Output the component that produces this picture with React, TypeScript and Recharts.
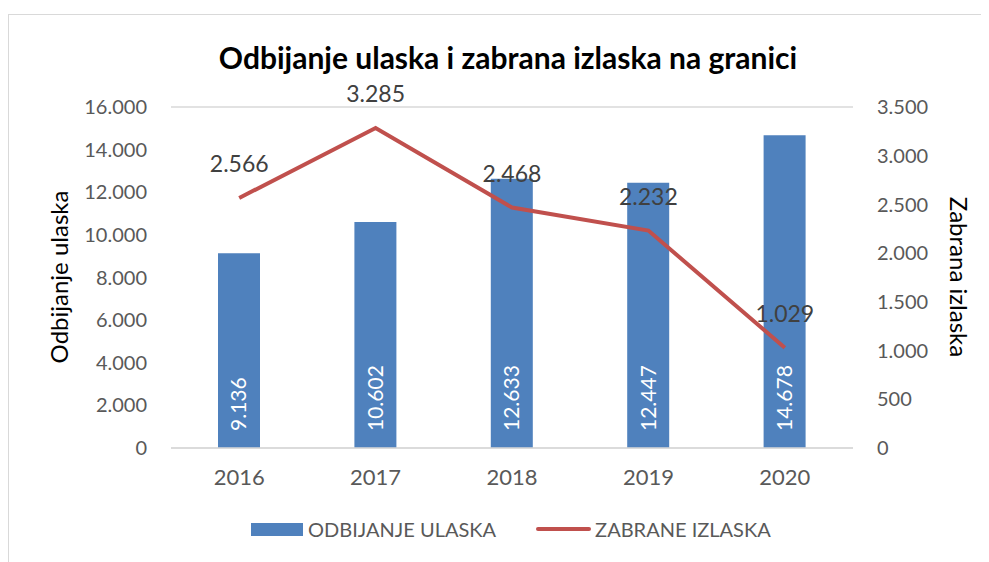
import React from 'react';
import { ComposedChart, Bar, Line, XAxis, YAxis, CartesianGrid, LabelList, Label } from 'recharts';

const years = ['2016', '2017', '2018', '2019', '2020'];
const odbijanjeUlaska = [9136, 10602, 12633, 12447, 14678];
const zabraneIzlaska = [2566, 3285, 2468, 2232, 1029];
const leftTicks = [0, 2000, 4000, 6000, 8000, 10000, 12000, 14000, 16000];
const rightTicks = [0, 500, 1000, 1500, 2000, 2500, 3000, 3500];

const data = years.map((y, i) => ({ year: y, odbijanje: odbijanjeUlaska[i], zabrane: zabraneIzlaska[i] }));

const fmt = (v: number) => String(v).replace(/\B(?=(\d{3})+(?!\d))/g, '.');

const FONT = 'Lato, "Open Sans", sans-serif';
const BLUE = '#4F81BD';
const RED = '#C0504D';
const TXT = '#595959';

const BarValue = (props: any) => {
  const { x, y, width, height, value } = props;
  const cx = x + width / 2;
  const cy = y + height - 17;
  return (
    <text x={cx} y={cy} dy="0.35em" transform={`rotate(-90, ${cx}, ${cy})`} fill="#ffffff" fontSize={21} fontFamily={FONT} textAnchor="start">
      {fmt(value)}
    </text>
  );
};

export default function App() {
  return (
    <div style={{ position: 'relative', width: 981, height: 554, fontFamily: FONT }}>
      <div style={{ position: 'absolute', left: 0, top: 6, width: 981, height: 548, borderTop: '1px solid #d9d9d9', borderLeft: '1px solid #d9d9d9', boxSizing: 'border-box' }} />
      <div style={{ position: 'absolute', left: 0, top: 31, width: 1000, textAlign: 'center', fontWeight: 700, fontSize: 30, color: '#000' }}>
        Odbijanje ulaska i zabrana izlaska na granici
      </div>
      <ComposedChart width={981} height={554} data={data} margin={{ top: 99, right: 0, bottom: 0, left: 0 }} style={{ position: 'absolute', left: 0, top: 0 }}>
        <CartesianGrid vertical={false} stroke="#d9d9d9" strokeWidth={1.3} />
        <XAxis dataKey="year" height={114} tickLine={false} axisLine={{ stroke: '#d9d9d9', strokeWidth: 1.3 }} tickSize={0} tickMargin={21} tick={{ fill: TXT, fontSize: 22, fontFamily: FONT }} />
        <YAxis yAxisId="left" orientation="left" width={163} domain={[0, 16000]} ticks={leftTicks} tickFormatter={fmt} tickLine={false} axisLine={false} tickSize={0} tickMargin={24} tick={{ fill: TXT, fontSize: 20, fontFamily: FONT }} interval={0}>
          <Label content={() => (
            <text x={52} y={269} transform="rotate(-90, 52, 269)" textAnchor="middle" dy="0.35em" fontSize={24} fontFamily={FONT} fill="#000">Odbijanje ulaska</text>
          )} />
        </YAxis>
        <YAxis yAxisId="right" orientation="right" width={136} domain={[0, 3500]} ticks={rightTicks} tickFormatter={fmt} tickLine={false} axisLine={false} tickSize={0} tickMargin={24} tick={{ fill: TXT, fontSize: 20, fontFamily: FONT }} interval={0}>
          <Label content={() => (
            <text x={950} y={269} transform="rotate(90, 950, 269)" textAnchor="middle" dy="0.35em" fontSize={24} fontFamily={FONT} fill="#000">Zabrana izlaska</text>
          )} />
        </YAxis>
        <Bar yAxisId="left" dataKey="odbijanje" fill={BLUE} barSize={42} isAnimationActive={false}>
          <LabelList dataKey="odbijanje" content={BarValue} />
        </Bar>
        <Line yAxisId="right" dataKey="zabrane" stroke={RED} strokeWidth={4} dot={false} isAnimationActive={false}>
          <LabelList dataKey="zabrane" position="top" offset={26} formatter={(v: any) => fmt(v)} fill="#404040" fontSize={23} fontFamily={FONT} />
        </Line>
      </ComposedChart>
      <div style={{ position: 'absolute', left: 243, top: 509, display: 'flex', alignItems: 'center', fontSize: 20, color: TXT }}>
        <div style={{ width: 52, height: 13, background: BLUE, marginRight: 5 }} />
        <span>ODBIJANJE ULASKA</span>
        <div style={{ width: 55, height: 4, borderRadius: 2, background: RED, marginLeft: 40, marginRight: 4 }} />
        <span>ZABRANE IZLASKA</span>
      </div>
    </div>
  );
}
